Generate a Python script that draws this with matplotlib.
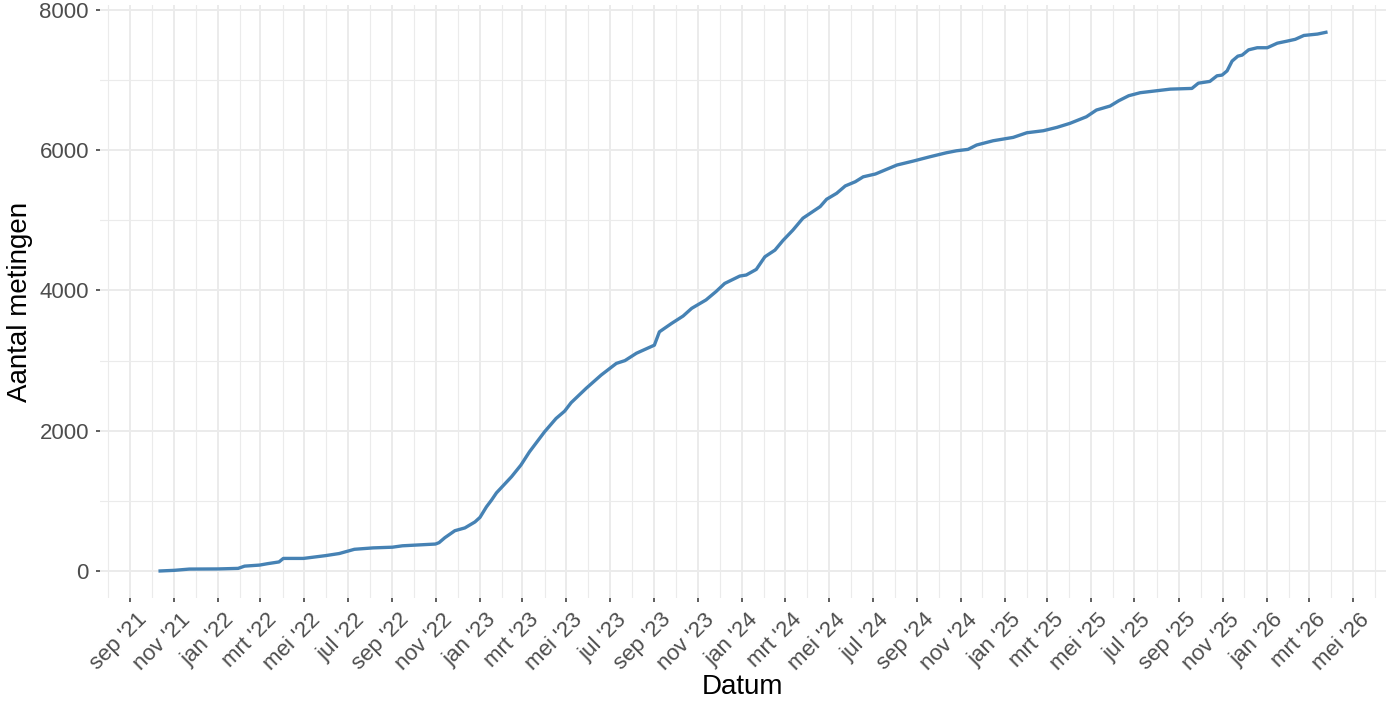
import numpy as np
import pandas as pd
import matplotlib
matplotlib.use("Agg")
import matplotlib.pyplot as plt
import matplotlib.dates as mdates
import matplotlib.transforms as mtransforms
from matplotlib.ticker import MultipleLocator, FuncFormatter

plt.rcParams['font.family'] = ['Liberation Sans', 'DejaVu Sans']

datums = [
    "2021-10-10", "2021-11-01", "2021-11-22", "2022-01-01", "2022-01-29",
    "2022-02-07", "2022-02-28", "2022-03-11", "2022-03-27", "2022-04-02",
    "2022-04-30", "2022-05-31", "2022-06-19", "2022-07-10", "2022-08-05",
    "2022-09-01", "2022-09-15", "2022-10-31", "2022-11-05", "2022-11-13",
    "2022-11-27", "2022-12-11", "2022-12-25", "2023-01-01", "2023-01-10",
    "2023-01-17", "2023-01-24", "2023-02-14", "2023-02-27", "2023-03-11",
    "2023-04-01", "2023-04-17", "2023-04-29", "2023-05-08", "2023-05-29",
    "2023-06-19", "2023-07-10", "2023-07-22", "2023-08-07", "2023-09-01",
    "2023-09-08", "2023-09-25", "2023-10-11", "2023-10-23", "2023-11-12",
    "2023-11-26", "2023-12-08", "2023-12-29", "2024-01-07", "2024-01-21",
    "2024-02-02", "2024-02-16", "2024-02-27", "2024-03-12", "2024-03-26",
    "2024-04-19", "2024-04-28", "2024-05-12", "2024-05-24", "2024-06-07",
    "2024-06-18", "2024-07-05", "2024-07-19", "2024-08-04", "2024-08-27",
    "2024-09-19", "2024-10-12", "2024-10-26", "2024-11-11", "2024-11-23",
    "2024-12-16", "2025-01-13", "2025-02-01", "2025-02-24", "2025-03-15",
    "2025-04-02", "2025-04-25", "2025-05-09", "2025-05-28", "2025-06-09",
    "2025-06-23", "2025-07-09", "2025-08-01", "2025-08-20", "2025-09-19",
    "2025-09-28", "2025-10-14", "2025-10-24", "2025-10-31", "2025-11-07",
    "2025-11-14", "2025-11-22", "2025-11-28", "2025-12-07", "2025-12-19",
    "2026-01-02", "2026-01-16", "2026-01-30", "2026-02-10", "2026-02-22",
    "2026-03-13", "2026-03-27",
]
aantal = [
    0, 10, 28, 30, 38,
    70, 85, 105, 130, 180,
    180, 220, 250, 310, 330,
    340, 360, 385, 405, 475,
    575, 615, 700, 765, 915,
    1010, 1115, 1345, 1510, 1700,
    1985, 2175, 2280, 2400, 2605,
    2795, 2960, 3000, 3105, 3220,
    3410, 3530, 3635, 3745, 3865,
    3985, 4100, 4205, 4220, 4300,
    4480, 4575, 4710, 4860, 5030,
    5195, 5300, 5385, 5490, 5550,
    5620, 5660, 5720, 5788, 5845,
    5906, 5963, 5991, 6011, 6073,
    6134, 6182, 6248, 6277, 6325,
    6382, 6476, 6572, 6629, 6704,
    6776, 6819, 6847, 6870, 6880,
    6955, 6980, 7060, 7070, 7130,
    7270, 7340, 7355, 7430, 7460,
    7460, 7525, 7555, 7580, 7635,
    7655, 7685,
]
maanden = ["jan", "feb", "mrt", "apr", "mei", "jun",
           "jul", "aug", "sep", "okt", "nov", "dec"]

x = pd.to_datetime(datums)
y = np.array(aantal)

fig = plt.figure(figsize=(13.96, 7.01), dpi=100)
ax = fig.add_axes([100 / 1396, 1 - 598 / 701, 1286 / 1396, 593 / 701])

ax.plot(x, y, color="#4682B4", lw=2.4, solid_joinstyle="round",
        solid_capstyle="butt", zorder=3)

# ggplot-like 5% expansion
xn = mdates.date2num(x)
span = xn.max() - xn.min()
ax.set_xlim(xn.min() - 0.05 * span, xn.max() + 0.05 * span)
ax.set_ylim(-0.05 * y.max(), y.max() * 1.05)

ax.xaxis.set_major_locator(mdates.MonthLocator(bymonth=[1, 3, 5, 7, 9, 11]))
ax.xaxis.set_minor_locator(mdates.MonthLocator())
ax.xaxis.set_major_formatter(FuncFormatter(
    lambda v, p: "%s '%02d" % (maanden[mdates.num2date(v).month - 1],
                               mdates.num2date(v).year % 100)))
ax.yaxis.set_major_locator(MultipleLocator(2000))
ax.yaxis.set_minor_locator(MultipleLocator(1000))

ax.grid(which="major", color="#EBEBEB", lw=1.4)
ax.grid(which="minor", color="#EBEBEB", lw=0.8)
ax.set_axisbelow(True)
for s in ax.spines.values():
    s.set_visible(False)

ax.tick_params(which="major", length=3, width=1.1, color="#333333",
               labelsize=16, labelcolor="#4D4D4D")
ax.tick_params(which="minor", length=0)
ax.tick_params(axis="y", pad=5)
ax.tick_params(axis="x", pad=5)

shift = mtransforms.ScaledTranslation(6 / 100, 0, fig.dpi_scale_trans)
for lab in ax.get_xticklabels():
    lab.set_rotation(45)
    lab.set_ha("right")
    lab.set_va("top")
    lab.set_rotation_mode("anchor")
    lab.set_transform(lab.get_transform() + shift)

ax.set_xlabel("Datum", fontsize=20, color="black")
ax.set_ylabel("Aantal metingen", fontsize=20, color="black")
ax.xaxis.set_label_coords(0.5, -0.128)
ax.yaxis.set_label_coords(-0.052, 0.5)

fig.savefig("out.png", dpi=100, facecolor="white")
